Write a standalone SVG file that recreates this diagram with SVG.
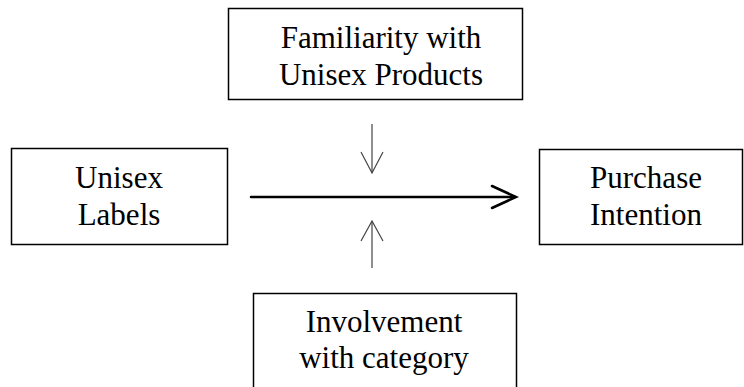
<svg xmlns="http://www.w3.org/2000/svg" width="744" height="387" viewBox="0 0 744 387">
<style>
.box{fill:#fff;stroke:#000;stroke-width:1.5}
.t{font-family:'Liberation Serif','Times New Roman',serif;font-size:31px;fill:#000;text-anchor:middle}
.main{stroke:#000;stroke-width:2.5;fill:none;stroke-linecap:round;stroke-linejoin:miter}
.mod{stroke:#444;stroke-width:1.2;fill:none}
</style>
<rect width="744" height="387" fill="#fff"/>
<g id="familiarity">
<rect class="box" x="228.5" y="8.5" width="294" height="91"/>
<text class="t" x="381" y="48">Familiarity with</text>
<text class="t" x="381" y="85">Unisex Products</text>
</g>
<g id="unisex-labels">
<rect class="box" x="11.5" y="148.5" width="216" height="96"/>
<text class="t" x="119" y="188">Unisex</text>
<text class="t" x="119" y="225">Labels</text>
</g>
<g id="purchase-intention">
<rect class="box" x="539.5" y="149.5" width="203" height="95"/>
<text class="t" x="646" y="188">Purchase</text>
<text class="t" x="646" y="225">Intention</text>
</g>
<g id="involvement">
<path class="box" d="M253.5,392 V293.5 H516.5 V392"/>
<text class="t" x="384" y="332">Involvement</text>
<text class="t" x="384" y="368">with category</text>
</g>
<g id="connectors">
<line class="main" x1="251" y1="197" x2="515" y2="197"/>
<polyline class="main" points="492,186 516,197 492,208"/>
<line class="mod" x1="372" y1="124" x2="372" y2="173"/>
<polyline class="mod" points="361,152 372,173 383,152"/>
<line class="mod" x1="372" y1="268" x2="372" y2="221"/>
<polyline class="mod" points="361,241 372,221 383,241"/>
</g>
</svg>
